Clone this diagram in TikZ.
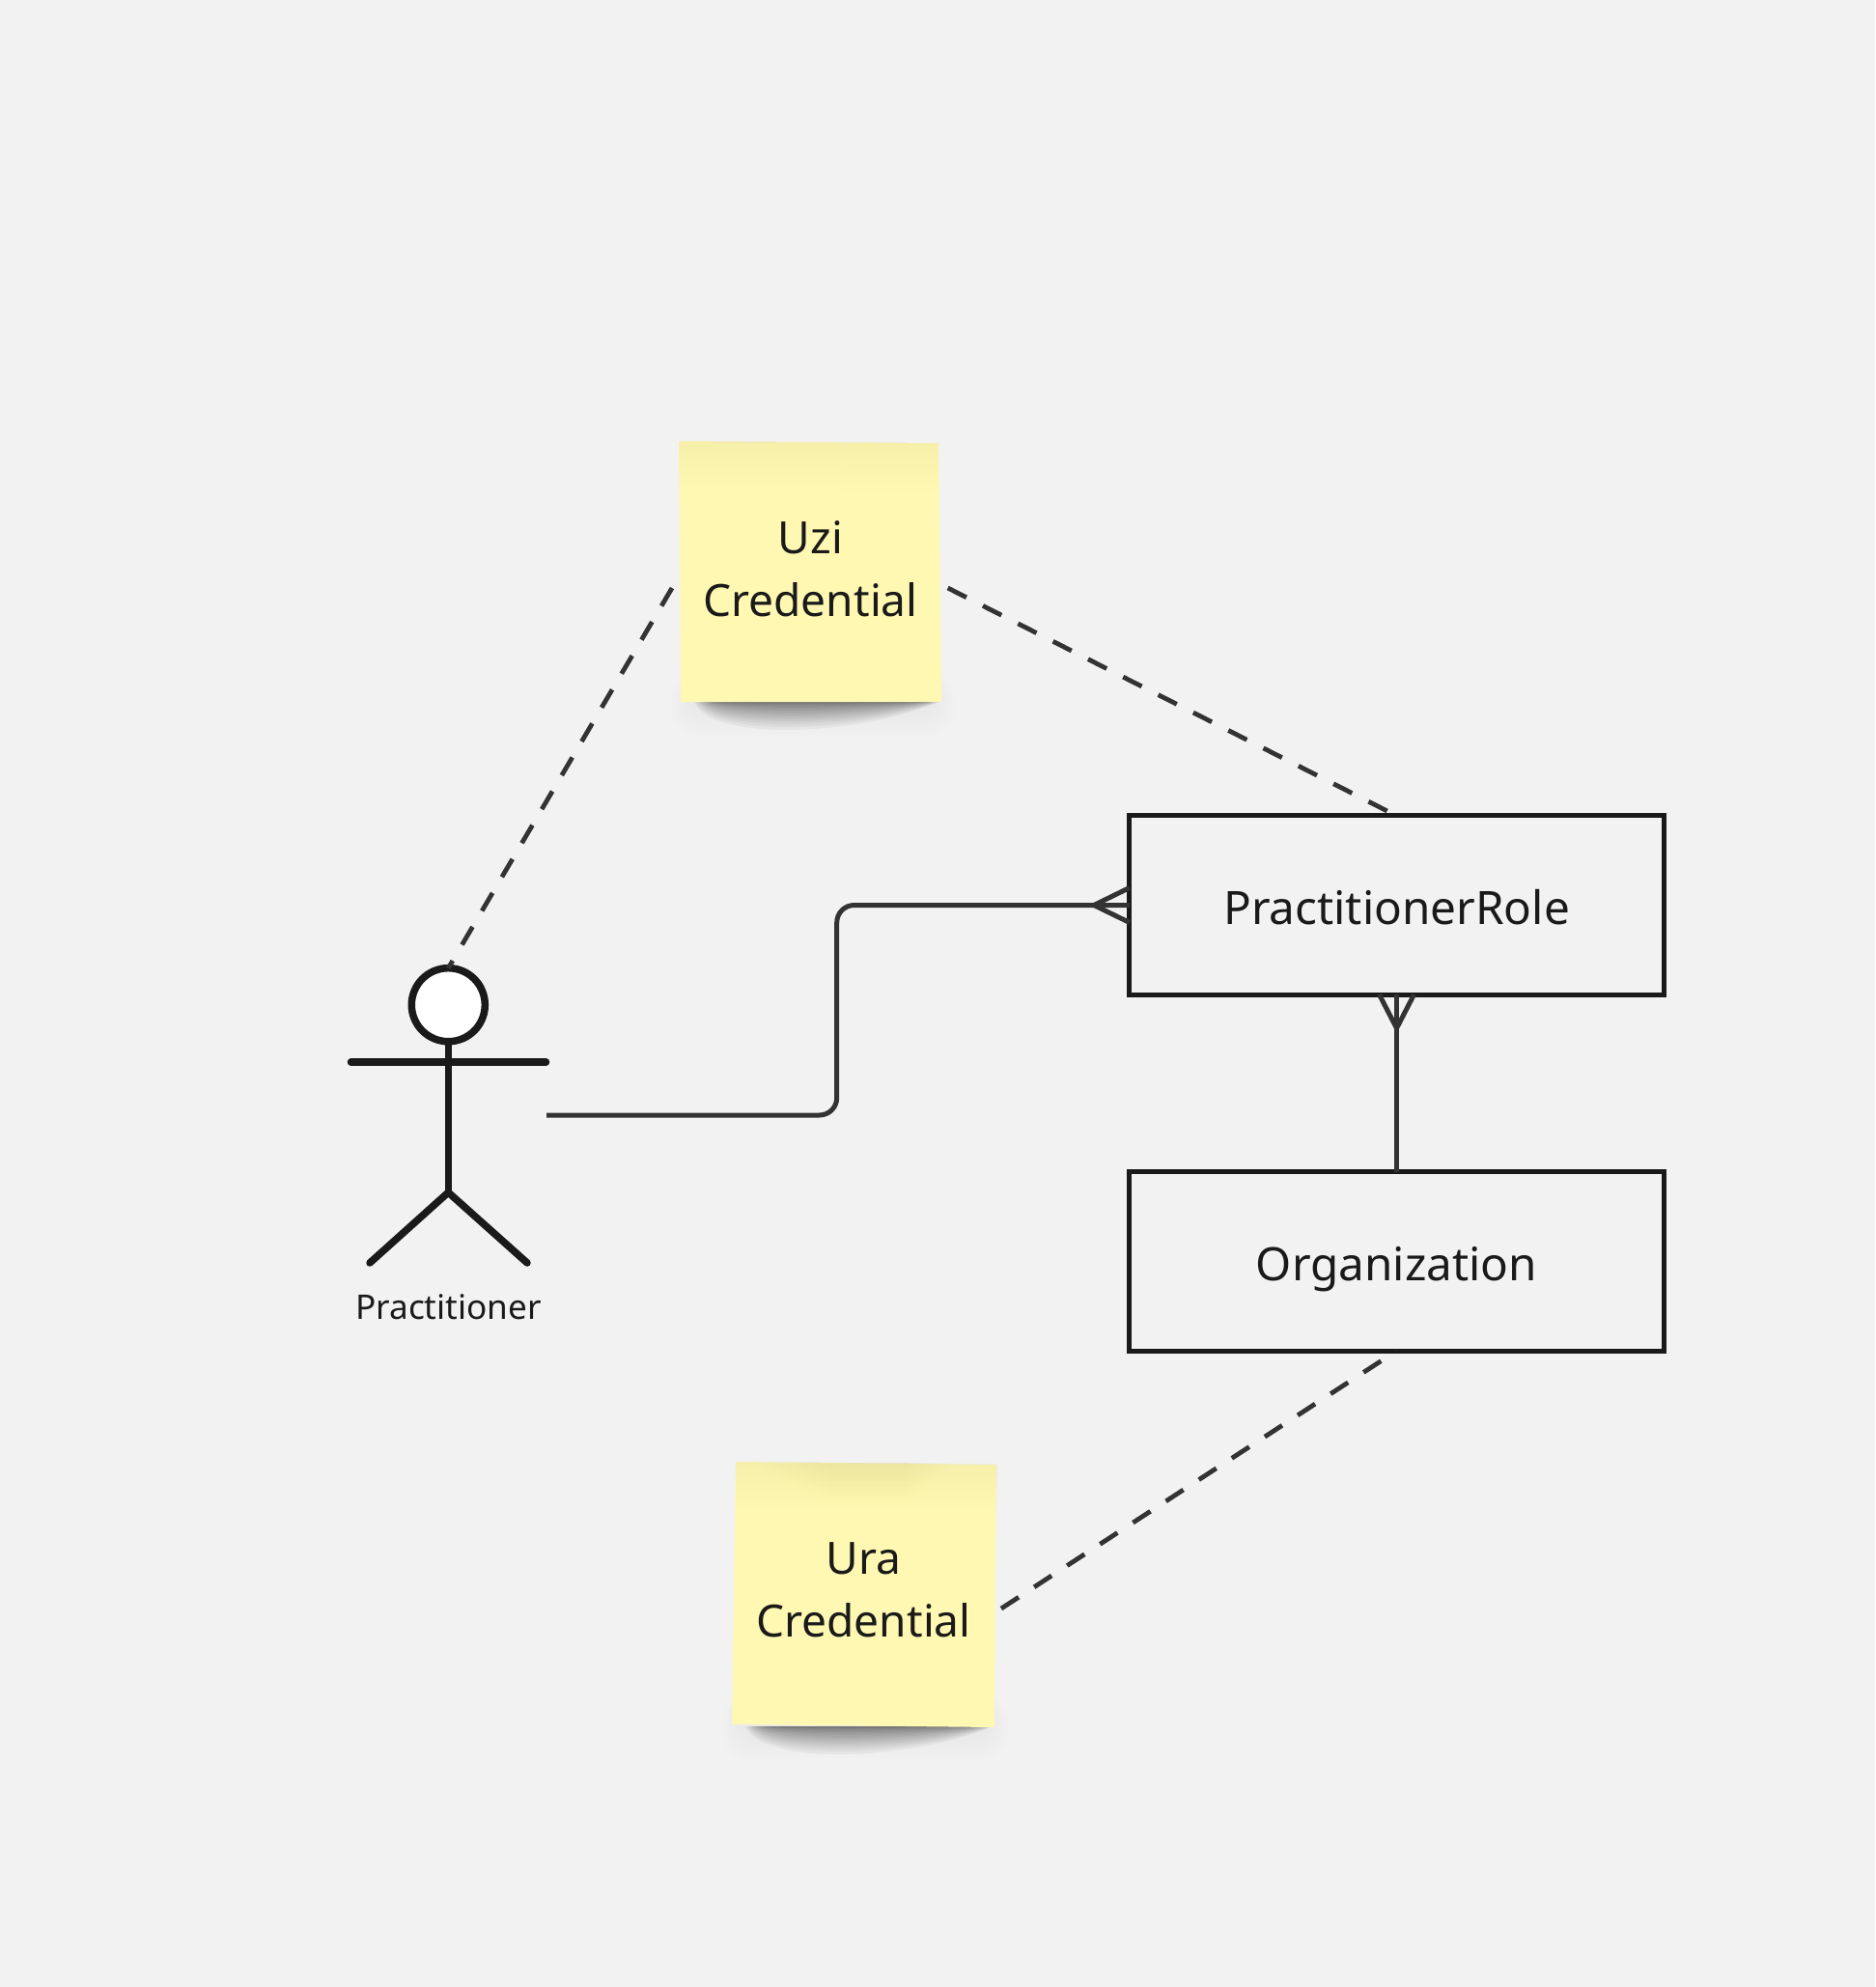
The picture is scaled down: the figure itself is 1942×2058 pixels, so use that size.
\documentclass[tikz,border=0pt]{standalone}
\usepackage{fontspec}
\setmainfont{Noto Sans}
\usetikzlibrary{calc}
\definecolor{bgc}{HTML}{F2F2F2}
\definecolor{ink}{HTML}{1A1A1A}
\definecolor{wire}{HTML}{333333}
\definecolor{stickyc}{HTML}{FFF8B2}
\definecolor{stickyd}{HTML}{E8D878}
\tikzset{
  boxnode/.style={draw=ink,line width=0.05cm,rectangle,minimum width=5.53cm,minimum height=1.85cm,outer sep=0pt,inner sep=0pt,text=ink,text height=0.48cm,text depth=0.08cm,font=\fontsize{13.55}{18.5}\selectfont},
  stickytext/.style={rectangle,minimum width=2.7cm,minimum height=2.7cm,outer sep=0pt,inner sep=0pt,align=center,text=ink,font=\fontsize{13.1}{18.5}\selectfont},
  actorlabel/.style={text=ink,inner sep=0pt,font=\fontsize{10}{12}\selectfont},
  actorhead/.style={circle,draw=ink,fill=white,line width=0.075cm,minimum size=0.76cm,inner sep=0pt,outer sep=0pt},
  limb/.style={draw=ink,line width=0.075cm,line cap=round},
  solidwire/.style={draw=wire,line width=0.05cm},
  dashwire/.style={draw=wire,line width=0.048cm,dash pattern=on 0.215cm off 0.192cm},
}
\newcommand{\stickshadow}[3]{%
  \foreach \i in {1,...,8}{
    \fill[black,opacity=0.005,rounded corners=0.25cm] ({#1-2*\i-6},{#3-30}) rectangle ({#2+2*\i-2},{#3+12+3*\i});
  }
  \foreach \i in {1,...,18}{
    \fill[black,opacity=0.04] ({#1+1.6*\i},#3) .. controls ({#1+18+2*\i},{#3+46*(1-\i/19)^2}) and ({#2-90},{#3+40*(1-\i/19)^2}) .. ({#2-\i},#3) -- cycle;
  }
}
\begin{document}
\begin{tikzpicture}[x=0.01cm,y=-0.01cm]
\useasboundingbox (0,0) rectangle (1942,2058);
\fill[bgc] (0,0) rectangle (1942,2058);
% Uzi sticky
\stickshadow{717}{974}{727}
\fill[stickyc] (703,457) -- (972,459) -- (975,727) -- (705,727) -- cycle;
\foreach \i in {1,...,8}{
  \fill[stickyd,opacity=0.011] (703,457) -- (972,459) -- (972,{459+6*\i}) -- (703,{457+6*\i}) -- cycle;
}
\node[stickytext] (uzi) at (839.5,589) {Uzi\\Credential};
% Ura sticky
\stickshadow{770}{1030}{1788}
\fill[stickyc] (762,1514) -- (1032,1517) -- (1030,1789) -- (758,1786) -- cycle;
\foreach \i in {1,...,8}{
  \fill[stickyd,opacity=0.014] (762,1514) -- (1032,1517) -- (1032,{1517+6*\i}) -- (762,{1514+6*\i}) -- cycle;
}
\foreach \i in {1,...,10}{
  \fill[stickyd,opacity=0.018] ({775+8*\i},1515) rectangle ({990-5*\i},{1515+4*\i});
}
\node[stickytext] (ura) at (894.5,1647) {Ura\\Credential};
% Boxes
\node[boxnode] (role) at (1446.5,937.5) {PractitionerRole};
\node[boxnode] (org) at (1446.5,1306.5) {Organization};
% Actor
\node[actorhead] (head) at (464.3,1040.7) {};
\coordinate (shoulderL) at (363.5,1100);
\coordinate (shoulderR) at (565.5,1100);
\coordinate (hip) at (464.3,1235);
\coordinate (footL) at (383,1308);
\coordinate (footR) at (546,1308);
\draw[limb] (shoulderL) -- (shoulderR);
\draw[limb,line cap=butt] (head.south) -- (hip);
\draw[limb,line join=round] (footL) -- (hip) -- (footR);
\node[actorlabel] (actor) at (464.5,1354) {Practitioner};
% Free ends of connectors
\coordinate (uziL) at (696,609);
\coordinate (uziR) at (981.7,609);
\coordinate (uraR) at (1037,1666);
\coordinate (actorR) at (566,1155);
\coordinate (elbowA) at (866.7,1155);
\coordinate (elbowB) at (866.7,937.5);
\coordinate (crowA) at (1133,937.5);
\coordinate (crowB) at (1446.5,1065);
% Connectors
\draw[dashwire] (uziL) -- (head.north);
\draw[dashwire] (uziR) -- (role.north);
\draw[dashwire] (uraR) -- (org.south);
\draw[solidwire,rounded corners=0.18cm] (actorR) -- (elbowA) -- (elbowB) -- (role.west);
\draw[solidwire,line join=round] ($(role.west)+(0,-18)$) -- (crowA) -- ($(role.west)+(0,18)$);
\draw[solidwire] (org.north) -- (role.south);
\draw[solidwire,line join=round] ($(role.south)+(-18,0)$) -- (crowB) -- ($(role.south)+(18,0)$);
\end{tikzpicture}
\end{document}
